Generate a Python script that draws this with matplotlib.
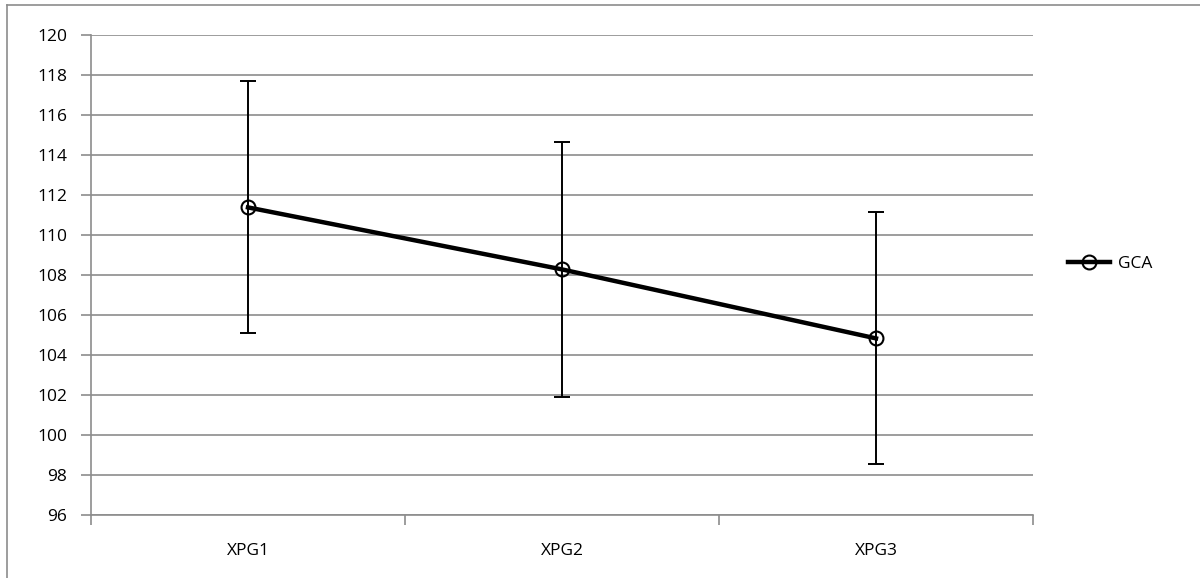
import matplotlib
matplotlib.use("Agg")
import matplotlib.pyplot as plt
from matplotlib.lines import Line2D

categories = ["XPG1", "XPG2", "XPG3"]
means = [111.38, 108.28, 104.83]
errors = [6.3, 6.38, 6.3]
series_name = "GCA"
yticks = list(range(96, 121, 2))

plt.rcParams['font.family'] = ['Open Sans', 'DejaVu Sans']

fig = plt.figure(figsize=(12, 5.78), dpi=100)
ax = fig.add_axes([91/1200, 1 - 515/578, (1033 - 91)/1200, (515 - 35)/578])

grid_c = '#8c8c8c'
fs = 12.5
x = list(range(1, len(categories) + 1))
ax.errorbar(x, means, yerr=errors, fmt='none', ecolor='black', elinewidth=1.4,
            capsize=5.5, capthick=1.4, zorder=3)
ax.plot(x, means, color='black', linewidth=3.2, marker='o', markersize=10,
        markerfacecolor='none', markeredgecolor='black', markeredgewidth=1.5, zorder=4)

ax.set_xlim(0.5, len(categories) + 0.5)
ax.set_ylim(96, 120)
ax.set_yticks(yticks)
ax.set_yticklabels([str(t) for t in yticks])
ax.set_xticks(x)
ax.set_xticklabels(categories)
ax.set_xticks([i + 0.5 for i in range(0, len(categories) + 1)], minor=True)
ax.tick_params(axis='x', which='major', length=0, pad=20, labelsize=fs)
ax.tick_params(axis='x', which='minor', length=7, color=grid_c, width=1.2, direction='out')
ax.tick_params(axis='y', length=7, color=grid_c, width=1.2, pad=10, labelsize=fs)
for t in yticks:
    ax.axhline(t, color=grid_c, linewidth=1.2, zorder=1)
for s in ['top', 'right']:
    ax.spines[s].set_visible(False)
for s in ['left', 'bottom']:
    ax.spines[s].set_color(grid_c)
    ax.spines[s].set_linewidth(1.2)

handle = Line2D([], [], color='black', linewidth=3.2, marker='o', markersize=10,
                markerfacecolor='none', markeredgecolor='black', markeredgewidth=1.5)
leg = fig.legend([handle], [series_name], loc='center left',
                 bbox_to_anchor=(1068/1200, 1 - 264/578), frameon=False,
                 fontsize=fs, handlelength=2.4, handletextpad=0.5, borderpad=0,
                 borderaxespad=0)

# outer chart border (left and top visible)
fig.add_artist(Line2D([7/1200, 7/1200], [0, 1 - 5/578], color=grid_c, linewidth=1.2,
                      transform=fig.transFigure))
fig.add_artist(Line2D([7/1200, 1], [1 - 5/578, 1 - 5/578], color=grid_c, linewidth=1.2,
                      transform=fig.transFigure))

fig.savefig("out.png", dpi=100)
